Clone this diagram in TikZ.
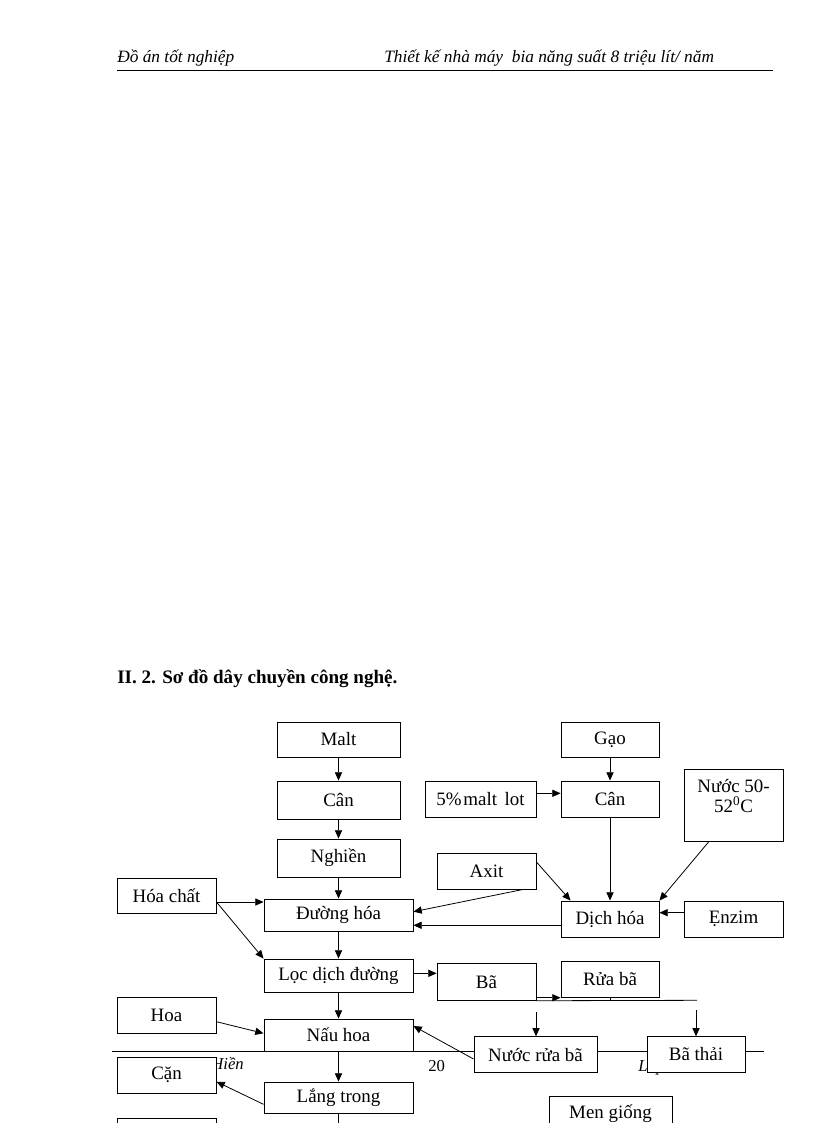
\documentclass[tikz,border=0pt]{standalone}
\usepackage{fontspec}
\setmainfont{Liberation Serif}
\usetikzlibrary{arrows.meta,calc}
\begin{document}
\begin{tikzpicture}[x=0.75pt,y=-0.75pt,
  box/.style={draw, fill=white, line width=0.7pt, inner sep=0pt, align=center, font=\fontsize{14.2}{16}\selectfont},
  arr/.style={line width=0.6pt, -{Triangle[length=6.2pt,width=5.4pt]}},
  ln/.style={line width=0.6pt},
  hdr/.style={anchor=base west, inner sep=0pt, font=\fontsize{13}{15}\selectfont\itshape},
  ftr/.style={inner sep=0pt, font=\fontsize{12.5}{14}\selectfont}]
\useasboundingbox (0,0) rectangle (816,1123);
\clip (0,0) rectangle (816,1123);

% header
\node[hdr] (h1) at (117,63) {Đồ án tốt nghiệp};
\node[hdr] (h2) at (384,63) {Thiết kế nhà máy\hspace{0.25em} bia năng suất 8 triệu lít/ năm};
\coordinate (hl1) at (117,70);
\coordinate (hl2) at (773,70);
\draw[line width=0.6pt] (hl1) -- (hl2);

% heading
\node[anchor=base west, inner sep=0pt, font=\fontsize{14.3}{16}\selectfont\bfseries] (title) at (117,683) {II. 2. Sơ đồ dây chuyền công nghệ.};

% footer (behind boxes)
\coordinate (fl1) at (112,1051);
\coordinate (fl2) at (764,1051);
\draw[line width=0.6pt] (fl1) -- (fl2);
\node[ftr, anchor=base east, font=\fontsize{12.5}{14}\selectfont\itshape] (f1) at (244,1069) {Hiền};
\node[ftr, anchor=base west] (f2) at (428,1071.5) {20};
\node[ftr, anchor=base west, font=\fontsize{12.5}{14}\selectfont\itshape] (f3) at (638,1071) {Lớp};

% boxes
\node[box, minimum width=92.25pt, minimum height=26.25pt] (malt) at (338.5,739.5) {Malt};
\node[box, minimum width=92.25pt, minimum height=28.5pt] (canL) at (338.5,800) {Cân};
\node[box, minimum width=92.25pt, minimum height=28.5pt] (nghien) at (338.5,858) {Nghiền};
\node[box, minimum width=74.25pt, minimum height=26.25pt] (hoachat) at (166.5,895.5) {Hóa chất};
\node[box, minimum width=111.75pt, minimum height=24pt] (duonghoa) at (338.5,915) {Đường hóa};
\node[box, minimum width=73.5pt, minimum height=26.25pt] (gao) at (610,739.5) {Gạo};
\node[box, minimum width=73.5pt, minimum height=27pt] (canR) at (610,799) {Cân};
\node[box, minimum width=83.25pt, minimum height=27pt] (maltlot) at (480.5,799) {5\%\hspace{0.1em}malt\hspace{0.4em}lot};
\node[box, minimum width=74.25pt, minimum height=54pt] (nuoc) at (733.5,805) {};
\node[anchor=north, inner sep=0pt, align=center, font=\fontsize{14.2}{15}\selectfont] (nuoctext) at (733.5,779) {Nước 50-\\52\textsuperscript{0}C};
\node[box, minimum width=74.25pt, minimum height=27pt] (axit) at (486.5,871) {Axit};
\node[box, minimum width=73.5pt, minimum height=27pt] (dichhoa) at (610,919) {Dịch hóa};
\node[box, minimum width=74.25pt, minimum height=27pt] (enzim) at (733.5,919) {Ẹnzim};
\node[box, minimum width=111.75pt, minimum height=24.75pt] (loc) at (338.5,975.5) {Lọc dịch đường};
\node[box, minimum width=74.25pt, minimum height=27.4pt] (ba) at (486.5,982) {Bã};
\node[box, minimum width=73.5pt, minimum height=27pt] (ruaba) at (610,979) {Rửa bã};
\node[box, minimum width=74.25pt, minimum height=27pt] (hoa) at (166.5,1015) {Hoa};
\node[box, minimum width=111.75pt, minimum height=24pt] (nauhoa) at (338.5,1035) {Nấu hoa};
\node[box, minimum width=92.25pt, minimum height=26.6pt] (nuocrua) at (535.5,1054.5) {Nước rửa bã};
\node[box, minimum width=73.5pt, minimum height=26.6pt] (bathai) at (696,1054.5) {Bã thải};
\node[box, minimum width=74.25pt, minimum height=27pt] (can) at (166.5,1075) {Cặn};
\node[box, minimum width=111.75pt, minimum height=23.25pt] (langtrong) at (338.5,1097.5) {Lắng trong};
\node[box, minimum width=74.25pt, minimum height=27pt] (bot) at (166.5,1136) {};
\node[box, minimum width=92.25pt, minimum height=27pt] (men) at (610.5,1114) {Men giống};

% connectors
\draw[arr] (malt) -- (canL);
\draw[arr] (canL) -- (nghien);
\draw[arr] (nghien) -- (duonghoa);
\draw[arr] (duonghoa) -- (loc);
\draw[arr] (loc) -- (nauhoa);
\draw[arr] (nauhoa) -- (langtrong);
\coordinate (ltdown) at (338.5,1140);
\draw[ln] (langtrong) -- (ltdown);
\draw[arr] (gao) -- (canR);
\draw[arr] (canR) -- (dichhoa);

\coordinate (mlA) at ($(maltlot.east)+(0,-5.7)$);
\draw[arr] (mlA) -- (mlA -| canR.west);

\coordinate (hcA) at ($(hoachat.east)+(0,6.5)$);
\draw[arr] (hcA) -- (hcA -| duonghoa.west);
\draw[arr] (hcA) -- (loc.north west);

\coordinate (axA) at ($(axit.south)+(36.5,0)$);
\coordinate (dhE) at ($(duonghoa.east)+(0,-3.3)$);
\draw[arr] (axA) -- (dhE);
\coordinate (axB) at ($(axit.east)+(0,-9)$);
\coordinate (dcA) at ($(dichhoa.north west)+(10,0)$);
\draw[arr] (axB) -- (dcA);

\coordinate (dcW) at ($(dichhoa.west)+(0,6.3)$);
\draw[arr] (dcW) -- (dcW -| duonghoa.east);

\coordinate (nuA) at ($(nuoc.south)+(-24.5,0)$);
\draw[arr] (nuA) -- (dichhoa.north east);

\coordinate (enA) at ($(enzim.west)+(0,-6.3)$);
\draw[arr] (enA) -- (enA -| dichhoa.east);

\coordinate (locE) at ($(loc.east)+(0,-2.2)$);
\draw[arr] (locE) -- (locE -| ba.west);

\coordinate (baA) at ($(ba.south east)+(0,-3)$);
\draw[arr] (baA) -- (baA -| ruaba.west);
\coordinate (baB) at (697,1000.3);
\draw[ln] (ba.south east) -- (baB);
\draw[ln] (ruaba.south) -- (ruaba.south |- baB);
\coordinate (nrT) at (536,1012);
\draw[arr] (nrT) -- (nrT |- nuocrua.north);
\coordinate (btT) at (696,1010);
\draw[arr] (btT) -- (btT |- bathai.north);

\coordinate (nrW) at ($(nuocrua.west)+(0,4.5)$);
\coordinate (nhE) at ($(nauhoa.east)+(0,-9)$);
\draw[arr] (nrW) -- (nhE);

\coordinate (hoaE) at ($(hoa.east)+(0,6.7)$);
\coordinate (nhW) at ($(nauhoa.west)+(0,-1.7)$);
\draw[arr] (hoaE) -- (nhW);

\coordinate (ltW) at ($(langtrong.west)+(0,6.8)$);
\coordinate (canE) at ($(can.east)+(0,6.7)$);
\draw[arr] (ltW) -- (canE);
\end{tikzpicture}
\end{document}
